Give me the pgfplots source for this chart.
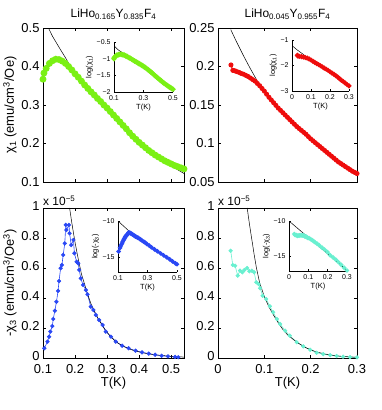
\documentclass[border=0pt]{standalone}
\usepackage{fontspec}
\setmainfont{Liberation Sans}
\usepackage{pgfplots}
\pgfplotsset{compat=1.18}

\definecolor{lgreen}{RGB}{122,240,20}
\definecolor{mred}{RGB}{238,12,12}
\definecolor{mblue}{RGB}{42,72,245}
\definecolor{mcyan}{RGB}{105,240,208}

\newcommand{\fmain}{\fontsize{13}{15}\selectfont}
\newcommand{\fins}{\fontsize{7}{8}\selectfont}

\pgfplotsset{
  mainax/.style={
    scale only axis, anchor=south west,
    tick align=inside, tick pos=both,
    major tick length=3bp,
    tick label style={font=\fmain},
    label style={font=\fmain},
    title style={font=\fontsize{12}{13}\selectfont, yshift=-1bp},
    /pgf/number format/assume math mode=true,
    scaled ticks=false,
    axis line style={line width=0.5pt},
    every tick/.style={black, line width=0.4pt},
  },
  bottomax/.style={
    xticklabel style={yshift=-2.5bp},
    yticklabel style={yshift=1.5bp},
    xlabel={T(K)},
    xlabel style={yshift=3bp},
  },
  insetax/.style={
    scale only axis, anchor=south west,
    axis x line*=bottom, axis y line*=left,
    axis line style={-, line width=0.5pt},
    tick align=inside, major tick length=2bp,
    every tick/.style={black, line width=0.4pt},
    axis background/.style={fill=white},
    tick label style={font=\fins},
    label style={font=\fontsize{7.5}{8.5}\selectfont},
    xlabel style={yshift=3bp},
    ylabel style={yshift=-3bp},
    /pgf/number format/assume math mode=true,
    scaled ticks=false,
  },
  fitline/.style={black, line width=0.5pt, no marks},
}

\begin{document}
\begin{tikzpicture}
\useasboundingbox (0,0) rectangle (382bp,410bp);

% ---------- top left: chi1, x=0.165 ----------
\begin{axis}[mainax, at={(43bp,228bp)}, width=141bp, height=154bp,
  xmin=0.1, xmax=0.54, ymin=0.1, ymax=0.5,
  xtick={0.1,0.2,0.3,0.4,0.5}, xticklabels={},
  ytick={0.1,0.2,0.3,0.4,0.5}, yticklabels={0.1,0.2,0.3,0.4,0.5},
  ylabel={χ\textsubscript{1} (emu/cm\textsuperscript{3}/Oe)},
  ylabel style={yshift=-2bp},
  title={LiHo\textsubscript{0.165}Y\textsubscript{0.835}F\textsubscript{4}}]
\addplot[lgreen, line width=2pt, mark=*, mark size=2.4bp] coordinates {
(0.100,0.367)(0.103,0.383)(0.110,0.395)(0.120,0.408)(0.130,0.415)(0.140,0.419)
(0.150,0.418)(0.160,0.414)(0.170,0.408)(0.180,0.400)(0.190,0.391)(0.200,0.381)
(0.210,0.372)(0.220,0.362)(0.230,0.352)(0.240,0.343)(0.250,0.334)(0.260,0.326)
(0.270,0.317)(0.280,0.309)(0.290,0.300)(0.300,0.292)(0.310,0.283)(0.320,0.274)
(0.330,0.265)(0.340,0.256)(0.350,0.247)(0.360,0.238)(0.370,0.228)(0.380,0.219)
(0.390,0.211)(0.400,0.203)(0.410,0.196)(0.420,0.189)(0.430,0.182)(0.440,0.176)
(0.450,0.170)(0.460,0.165)(0.470,0.160)(0.480,0.155)(0.490,0.151)(0.500,0.147)
(0.510,0.143)(0.520,0.140)(0.530,0.137)(0.540,0.134)};
\addplot[fitline] coordinates {
(0.117,0.500)(0.130,0.478)(0.150,0.450)(0.170,0.423)(0.190,0.393)(0.210,0.370)
(0.230,0.351)(0.250,0.333)(0.280,0.308)(0.310,0.282)(0.340,0.255)(0.370,0.227)
(0.400,0.201)(0.430,0.179)(0.460,0.161)(0.490,0.146)(0.520,0.132)(0.540,0.122)};
\end{axis}

\begin{axis}[insetax, at={(114bp,318bp)}, width=59bp, height=50bp,
  xmin=0.1, xmax=0.5, ymin=-2, ymax=-0.5,
  xtick={0.1,0.3,0.5}, xticklabels={0.1,0.3,0.5},
  ytick={-2,-1.5,-1,-0.5}, yticklabels={−2,−1.5,−1,−0.5},
  xlabel={T(K)}, ylabel={log(χ\textsubscript{1})}]
\addplot[lgreen, line width=2.2pt, mark=*, mark size=1.4bp] coordinates {
(0.100,-1.002)(0.103,-0.960)(0.110,-0.929)(0.120,-0.896)(0.130,-0.879)(0.140,-0.870)
(0.150,-0.872)(0.160,-0.882)(0.170,-0.896)(0.180,-0.916)(0.190,-0.939)(0.200,-0.965)
(0.210,-0.989)(0.220,-1.016)(0.230,-1.044)(0.240,-1.070)(0.250,-1.097)(0.260,-1.121)
(0.270,-1.149)(0.280,-1.174)(0.290,-1.204)(0.300,-1.231)(0.310,-1.262)(0.320,-1.295)
(0.330,-1.328)(0.340,-1.363)(0.350,-1.398)(0.360,-1.435)(0.370,-1.478)(0.380,-1.519)
(0.390,-1.556)(0.400,-1.595)(0.410,-1.630)(0.420,-1.666)(0.430,-1.704)(0.440,-1.737)
(0.450,-1.772)(0.460,-1.802)(0.470,-1.833)(0.480,-1.864)(0.490,-1.890)(0.500,-1.917)};
\addplot[fitline] coordinates {
(0.100,-0.61)(0.117,-0.69)(0.130,-0.74)(0.150,-0.80)(0.190,-0.93)(0.250,-1.10)
(0.310,-1.27)(0.370,-1.48)(0.430,-1.72)(0.490,-1.92)(0.500,-1.96)};
\end{axis}

% ---------- top right: chi1, x=0.045 ----------
\begin{axis}[mainax, at={(218bp,228bp)}, width=139bp, height=154bp,
  xmin=0, xmax=0.3, ymin=0.05, ymax=0.25,
  xtick={0,0.1,0.2,0.3}, xticklabels={},
  ytick={0.05,0.1,0.15,0.2,0.25}, yticklabels={0.05,0.1,0.15,0.2,0.25},
  title={LiHo\textsubscript{0.045}Y\textsubscript{0.955}F\textsubscript{4}}]
\addplot[mred, line width=1pt, mark=*, mark size=2bp] coordinates {
(0.028,0.202)(0.032,0.195)(0.036,0.1945)(0.040,0.1935)(0.045,0.1925)(0.050,0.191)
(0.055,0.190)(0.060,0.1885)(0.065,0.187)(0.070,0.185)(0.075,0.183)(0.080,0.181)
(0.085,0.178)(0.090,0.175)(0.095,0.1715)(0.100,0.168)(0.105,0.164)(0.110,0.160)
(0.115,0.1565)(0.120,0.153)(0.125,0.1495)(0.130,0.146)(0.135,0.143)(0.140,0.140)
(0.145,0.137)(0.150,0.134)(0.155,0.131)(0.160,0.128)(0.165,0.125)(0.170,0.122)
(0.175,0.1195)(0.180,0.117)(0.185,0.1145)(0.190,0.112)(0.195,0.109)(0.200,0.106)
(0.205,0.1035)(0.210,0.101)(0.215,0.0985)(0.220,0.096)(0.225,0.0935)(0.230,0.091)
(0.235,0.0885)(0.240,0.086)(0.245,0.0835)(0.250,0.081)(0.255,0.0785)(0.260,0.076)
(0.265,0.074)(0.270,0.072)(0.275,0.070)(0.280,0.068)(0.285,0.066)(0.290,0.064)
(0.295,0.0625)(0.300,0.061)};
\addplot[fitline] coordinates {
(0.0275,0.248)(0.040,0.232)(0.055,0.214)(0.070,0.197)(0.085,0.181)(0.100,0.167)
(0.120,0.152)(0.150,0.133)(0.180,0.116)(0.210,0.100)(0.240,0.085)(0.270,0.071)
(0.300,0.058)};
\end{axis}

\begin{axis}[insetax, at={(292bp,319bp)}, width=57bp, height=51bp,
  xmin=0, xmax=0.3, ymin=-3, ymax=-1,
  xtick={0,0.1,0.2,0.3}, xticklabels={0,0.1,0.2,0.3},
  ytick={-3,-2,-1}, yticklabels={−3,−2,−1},
  xlabel={T(K)}, ylabel={log(χ\textsubscript{1})}]
\addplot[mred, line width=2pt, mark=*, mark size=1.3bp] coordinates {
(0.028,-1.599)(0.032,-1.635)(0.040,-1.642)(0.050,-1.655)(0.060,-1.669)(0.070,-1.687)
(0.080,-1.709)(0.090,-1.743)(0.100,-1.784)(0.110,-1.833)(0.120,-1.877)(0.130,-1.924)
(0.140,-1.966)(0.150,-2.010)(0.160,-2.056)(0.170,-2.104)(0.180,-2.146)(0.190,-2.189)
(0.200,-2.244)(0.210,-2.293)(0.220,-2.343)(0.230,-2.397)(0.240,-2.453)(0.250,-2.513)
(0.260,-2.577)(0.270,-2.631)(0.280,-2.688)(0.290,-2.749)(0.300,-2.797)};
\addplot[fitline] coordinates {
(0,-1.22)(0.0275,-1.39)(0.055,-1.54)(0.085,-1.71)(0.12,-1.88)(0.15,-2.02)
(0.18,-2.15)(0.21,-2.30)(0.24,-2.46)(0.27,-2.65)(0.30,-2.85)};
\end{axis}

% ---------- bottom left: -chi3, x=0.165 ----------
\begin{axis}[mainax, bottomax, at={(43bp,52bp)}, width=141bp, height=150bp,
  xmin=0.1, xmax=0.54, ymin=0, ymax=1,
  xtick={0.1,0.2,0.3,0.4,0.5}, xticklabels={0.1,0.2,0.3,0.4,0.5},
  ytick={0,0.2,0.4,0.6,0.8,1}, yticklabels={0,0.2,0.4,0.6,0.8,1},
  ylabel={-χ\textsubscript{3} (emu/cm\textsuperscript{3}/Oe\textsuperscript{3})},
  ylabel style={yshift=-2bp}]
\addplot[mblue, line width=0.6pt, mark=*, mark size=1.8bp] coordinates {
(0.104,0.065)(0.114,0.109)(0.119,0.142)(0.123,0.176)(0.129,0.213)(0.132,0.260)
(0.137,0.315)(0.142,0.375)(0.147,0.447)(0.150,0.513)(0.155,0.598)(0.159,0.620)
(0.163,0.687)(0.168,0.764)(0.171,0.887)(0.173,0.853)(0.181,0.887)(0.183,0.831)
(0.188,0.753)(0.195,0.787)(0.198,0.698)(0.205,0.642)(0.210,0.631)(0.213,0.587)
(0.218,0.531)(0.225,0.487)(0.234,0.453)(0.239,0.424)(0.249,0.342)(0.257,0.320)
(0.265,0.287)(0.275,0.253)(0.286,0.220)(0.296,0.176)(0.312,0.142)(0.327,0.109)
(0.347,0.082)(0.367,0.065)(0.389,0.049)(0.409,0.038)(0.430,0.029)(0.450,0.022)
(0.470,0.015)(0.490,0.011)(0.512,0.007)(0.522,0.005)};
\addplot[fitline] coordinates {
(0.183,1.00)(0.190,0.90)(0.200,0.77)(0.210,0.66)(0.220,0.56)(0.230,0.49)
(0.240,0.42)(0.250,0.36)(0.270,0.27)(0.290,0.20)(0.310,0.145)(0.330,0.105)
(0.350,0.078)(0.380,0.052)(0.410,0.035)(0.450,0.021)(0.500,0.011)(0.540,0.006)};
\end{axis}
\node[anchor=base west, inner sep=0pt, font=\fontsize{12}{13}\selectfont] at (43bp,204bp) {x 10\textsuperscript{−5}};

\begin{axis}[insetax, at={(118bp,138bp)}, width=59bp, height=51bp,
  xmin=0.1, xmax=0.5, ymin=-17.1, ymax=-10,
  xtick={0.1,0.3,0.5}, xticklabels={0.1,0.3,0.5},
  ytick={-15,-10}, yticklabels={−15,−10},
  xlabel={T(K)}, ylabel={log(-χ\textsubscript{3})}]
\addplot[mblue, line width=1.8pt, mark=*, mark size=1.2bp] coordinates {
(0.104,-14.25)(0.114,-13.73)(0.119,-13.47)(0.123,-13.25)(0.129,-13.06)(0.132,-12.86)
(0.137,-12.67)(0.142,-12.49)(0.147,-12.32)(0.150,-12.18)(0.155,-12.03)(0.159,-11.99)
(0.163,-11.89)(0.168,-11.78)(0.171,-11.63)(0.175,-11.62)(0.181,-11.63)(0.186,-11.72)
(0.192,-11.78)(0.198,-11.87)(0.205,-11.96)(0.213,-12.05)(0.218,-12.15)(0.225,-12.23)
(0.234,-12.31)(0.239,-12.37)(0.249,-12.52)(0.257,-12.63)(0.265,-12.76)(0.275,-12.89)
(0.286,-13.03)(0.296,-13.20)(0.312,-13.43)(0.327,-13.66)(0.347,-13.95)(0.367,-14.22)
(0.389,-14.51)(0.409,-14.78)(0.430,-15.05)(0.450,-15.33)(0.470,-15.62)(0.490,-15.90)
(0.500,-16.02)};
\addplot[fitline] coordinates {
(0.100,-10.0)(0.140,-10.75)(0.180,-11.5)(0.250,-12.5)(0.300,-13.2)(0.400,-14.65)(0.500,-16.1)};
\end{axis}

% ---------- bottom right: -chi3, x=0.045 ----------
\begin{axis}[mainax, bottomax, at={(218bp,52bp)}, width=139bp, height=150bp,
  xmin=0, xmax=0.3, ymin=0, ymax=1,
  xtick={0,0.1,0.2,0.3}, xticklabels={0,0.1,0.2,0.3},
  ytick={0,0.2,0.4,0.6,0.8,1}, yticklabels={0,0.2,0.4,0.6,0.8,1}]
\addplot[mcyan, line width=0.6pt, mark=*, mark size=1.8bp] coordinates {
(0.0274,0.715)(0.0318,0.620)(0.037,0.615)(0.0425,0.549)(0.0475,0.582)(0.0525,0.571)
(0.057,0.587)(0.063,0.600)(0.0677,0.578)(0.073,0.582)(0.078,0.571)(0.0825,0.505)
(0.0875,0.493)(0.091,0.465)(0.0965,0.415)(0.104,0.393)(0.112,0.345)(0.119,0.305)
(0.127,0.260)(0.134,0.227)(0.145,0.182)(0.155,0.149)(0.170,0.105)(0.184,0.078)
(0.199,0.055)(0.213,0.035)(0.227,0.026)(0.242,0.019)(0.256,0.013)(0.270,0.009)
(0.285,0.006)(0.300,0.004)};
\addplot[fitline] coordinates {
(0.063,1.00)(0.068,0.89)(0.073,0.79)(0.078,0.69)(0.083,0.60)(0.090,0.50)
(0.100,0.41)(0.110,0.34)(0.120,0.285)(0.130,0.235)(0.140,0.19)(0.150,0.155)
(0.170,0.105)(0.190,0.068)(0.210,0.043)(0.230,0.027)(0.250,0.017)(0.270,0.010)
(0.300,0.005)};
\end{axis}
\node[anchor=base west, inner sep=0pt, font=\fontsize{12}{13}\selectfont] at (218bp,204bp) {x 10\textsuperscript{−5}};

\begin{axis}[insetax, at={(289bp,139bp)}, width=58bp, height=50bp,
  xmin=0, xmax=0.3, ymin=-17.1, ymax=-10,
  xtick={0,0.1,0.2,0.3}, xticklabels={0,0.1,0.2,0.3},
  ytick={-15,-10}, yticklabels={−15,−10},
  xlabel={T(K)}, ylabel={log(-χ\textsubscript{3})}]
\addplot[mcyan, line width=1.8pt, mark=*, mark size=1.2bp] coordinates {
(0.0274,-11.85)(0.0318,-11.99)(0.037,-12.00)(0.0425,-12.11)(0.0475,-12.05)(0.0525,-12.07)
(0.057,-12.05)(0.063,-12.02)(0.0677,-12.06)(0.073,-12.05)(0.078,-12.07)(0.0825,-12.20)
(0.0875,-12.22)(0.091,-12.28)(0.0965,-12.39)(0.104,-12.45)(0.112,-12.58)(0.119,-12.70)
(0.127,-12.86)(0.134,-13.00)(0.145,-13.22)(0.155,-13.42)(0.170,-13.77)(0.184,-14.06)
(0.199,-14.41)(0.213,-14.87)(0.227,-15.16)(0.242,-15.48)(0.256,-15.86)(0.270,-16.22)
(0.285,-16.63)(0.300,-17.03)};
\addplot[fitline] coordinates {(0,-10)(0.3,-17)};
\end{axis}

\end{tikzpicture}
\end{document}
